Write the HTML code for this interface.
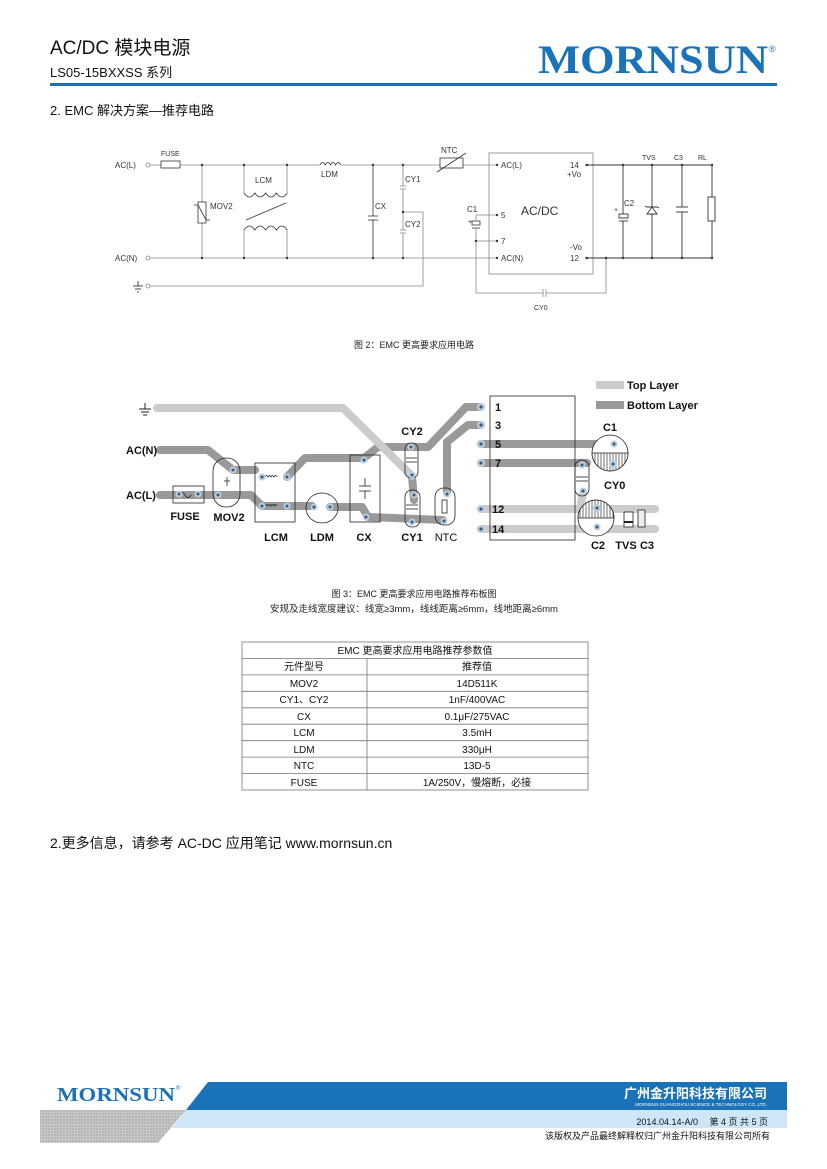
<!DOCTYPE html>
<html><head><meta charset="utf-8">
<style>
html,body{margin:0;padding:0;background:#fff;}
svg{display:block;}
text{font-family:"Liberation Sans","Noto Sans CJK SC",sans-serif;}
</style></head>
<body>
<svg width="827" height="1169" viewBox="0 0 827 1169" xmlns="http://www.w3.org/2000/svg">
<defs>
<pattern id="hatch" width="3" height="3" patternUnits="userSpaceOnUse"><rect width="3" height="3" fill="#c8c8c8"/><circle cx="1" cy="1" r="0.7" fill="#9a9a9a"/></pattern>
<pattern id="vl" width="3" height="3" patternUnits="userSpaceOnUse"><rect width="3" height="3" fill="#fff"/><line x1="1" y1="0" x2="1" y2="3" stroke="#333" stroke-width="0.7"/></pattern>
</defs>

<!-- Header -->
<text x="50" y="54" font-size="19" fill="#111">AC/DC 模块电源</text>
<text x="50" y="77" font-size="13" fill="#111">LS05-15BXXSS 系列</text>
<text x="538" y="73" font-size="40" font-weight="bold" fill="#1a72b9" style="font-family:'Liberation Serif',serif" textLength="230" lengthAdjust="spacingAndGlyphs">MORNSUN</text>
<text x="769" y="52" font-size="9" fill="#1a72b9">®</text>
<rect x="50" y="83" width="727" height="3" fill="#1a72b9"/>
<text x="50" y="115" font-size="13" fill="#111">2. EMC 解决方案—推荐电路</text>

<!-- Schematic -->
<g stroke="#888" stroke-width="0.8" fill="none">
<circle cx="148" cy="165" r="2"/><circle cx="148" cy="258" r="2"/><circle cx="148" cy="286" r="2"/>
<line x1="150" y1="165" x2="161" y2="165"/><rect x="161" y="161" width="19" height="7" stroke="#333"/>
<line x1="180" y1="165" x2="320" y2="165"/>
<path d="M320 165 q2.6 -5 5.2 0 q2.6 -5 5.2 0 q2.6 -5 5.2 0 q2.6 -5 5.2 0" stroke="#333"/>
<line x1="341" y1="165" x2="440" y2="165"/>
<line x1="463" y1="165" x2="497" y2="165"/>
<rect x="440" y="158" width="23" height="10" stroke="#333"/><line x1="437" y1="172" x2="466" y2="153" stroke="#333"/>
<line x1="150" y1="258" x2="497" y2="258"/>
<line x1="202" y1="165" x2="202" y2="258"/>
<rect x="198" y="202" width="8" height="21" stroke="#333" fill="#fff"/><path d="M194 205 l4 0 l8 15 l4 0" stroke="#333"/>
<line x1="244" y1="165" x2="244" y2="193"/><line x1="287" y1="165" x2="287" y2="193"/>
<path d="M244 193 q5.4 8 10.8 0 q5.4 8 10.8 0 q5.4 8 10.8 0 q5.4 8 10.8 0" stroke="#333"/>
<path d="M244 230 q5.4 -8 10.8 0 q5.4 -8 10.8 0 q5.4 -8 10.8 0 q5.4 -8 10.8 0" stroke="#333"/>
<line x1="244" y1="230" x2="244" y2="258"/><line x1="287" y1="230" x2="287" y2="258"/>
<line x1="246" y1="220" x2="286" y2="203" stroke="#333"/>
<line x1="373" y1="165" x2="373" y2="216" stroke="#333"/><line x1="373" y1="220" x2="373" y2="258" stroke="#333"/>
<line x1="368" y1="216" x2="378" y2="216" stroke="#333"/><line x1="368" y1="220" x2="378" y2="220" stroke="#333"/>
<line x1="403" y1="165" x2="403" y2="186"/><line x1="400" y1="186" x2="406" y2="186"/><line x1="400" y1="189" x2="406" y2="189"/>
<line x1="403" y1="189" x2="403" y2="230"/><line x1="400" y1="230" x2="406" y2="230"/><line x1="400" y1="233" x2="406" y2="233"/>
<line x1="403" y1="233" x2="403" y2="258"/>
<polyline points="403,212 423,212 423,286 150,286"/>
<rect x="489" y="153" width="104" height="121"/>
<line x1="476" y1="215" x2="497" y2="215"/><line x1="476" y1="215" x2="476" y2="220"/>
<rect x="472" y="221" width="8" height="4" stroke="#333"/><line x1="472" y1="228" x2="480" y2="228" stroke="#333"/>
<line x1="476" y1="228" x2="476" y2="293"/>
<line x1="476" y1="241" x2="497" y2="241"/>
<line x1="476" y1="293" x2="543" y2="293"/><line x1="543" y1="289" x2="543" y2="297"/><line x1="546" y1="289" x2="546" y2="297"/>
<polyline points="546,293 606,293 606,258"/>
</g>
<g stroke="#333" stroke-width="0.9" fill="none">
<line x1="585" y1="165" x2="712" y2="165"/><line x1="585" y1="258" x2="712" y2="258"/>
<line x1="623" y1="165" x2="623" y2="214"/><rect x="619" y="214" width="9" height="4"/><line x1="619" y1="221" x2="628" y2="221"/><line x1="623" y1="221" x2="623" y2="258"/>
<line x1="652" y1="165" x2="652" y2="258"/><path d="M647 214 l10 0 l-5 -7 z M645 206 l2 1 l10 0 l2 1" fill="#fff"/>
<line x1="682" y1="165" x2="682" y2="207"/><line x1="676" y1="207" x2="688" y2="207"/><line x1="676" y1="212" x2="688" y2="212"/><line x1="682" y1="212" x2="682" y2="258"/>
<line x1="712" y1="165" x2="712" y2="197"/><rect x="708" y="197" width="7" height="24"/><line x1="712" y1="221" x2="712" y2="258"/>
</g>
<g fill="#333">
<circle cx="202" cy="165" r="1.2"/><circle cx="244" cy="165" r="1.2"/><circle cx="287" cy="165" r="1.2"/><circle cx="373" cy="165" r="1.2"/><circle cx="403" cy="165" r="1.2"/>
<circle cx="202" cy="258" r="1.2"/><circle cx="244" cy="258" r="1.2"/><circle cx="287" cy="258" r="1.2"/><circle cx="373" cy="258" r="1.2"/><circle cx="403" cy="258" r="1.2"/>
<circle cx="403" cy="212" r="1.2"/><circle cx="476" cy="241" r="1.2"/>
<circle cx="497" cy="165" r="1.2"/><circle cx="497" cy="215" r="1.2"/><circle cx="497" cy="241" r="1.2"/><circle cx="497" cy="258" r="1.2"/>
<circle cx="587" cy="165" r="1.2"/><circle cx="587" cy="258" r="1.2"/><circle cx="606" cy="258" r="1.2"/>
<circle cx="623" cy="165" r="1.2"/><circle cx="652" cy="165" r="1.2"/><circle cx="682" cy="165" r="1.2"/><circle cx="712" cy="165" r="1.2"/>
<circle cx="623" cy="258" r="1.2"/><circle cx="652" cy="258" r="1.2"/><circle cx="682" cy="258" r="1.2"/><circle cx="712" cy="258" r="1.2"/>
</g>
<g stroke="#333" stroke-width="0.9"><line x1="138" y1="281" x2="138" y2="286"/><line x1="133" y1="286" x2="143" y2="286"/><line x1="135" y1="289" x2="141" y2="289"/><line x1="137" y1="292" x2="139" y2="292"/></g>
<g font-size="8" fill="#333">
<text x="115" y="168">AC(L)</text><text x="115" y="261">AC(N)</text>
<text x="161" y="156" font-size="7">FUSE</text><text x="210" y="209">MOV2</text><text x="255" y="183">LCM</text>
<text x="321" y="177">LDM</text><text x="375" y="209">CX</text><text x="405" y="182">CY1</text><text x="405" y="227">CY2</text>
<text x="441" y="153">NTC</text><text x="467" y="212">C1</text><text x="468" y="224" font-size="7">+</text>
<text x="501" y="168">AC(L)</text><text x="501" y="218">5</text><text x="501" y="244">7</text><text x="501" y="261">AC(N)</text>
<text x="521" y="215" font-size="12">AC/DC</text>
<text x="570" y="168">14</text><text x="567" y="177">+Vo</text><text x="570" y="250">-Vo</text><text x="570" y="261">12</text>
<text x="624" y="206">C2</text><text x="614" y="212" font-size="7">+</text>
<text x="642" y="160" font-size="7">TVS</text><text x="674" y="160" font-size="7">C3</text><text x="698" y="160" font-size="7">RL</text>
<text x="534" y="310" font-size="7">CY0</text>
</g>
<text x="414" y="348" font-size="9" fill="#222" text-anchor="middle">图 2：EMC 更高要求应用电路</text>

<!-- PCB -->
<g fill="none" stroke-linejoin="round" stroke-linecap="round" stroke-width="8">
<polyline stroke="#999" points="160,450 208,450 233,470 255,470"/>
<polyline stroke="#999" points="160,495 251,495 262,506 312,506"/>
<polyline stroke="#999" points="287,477 305,458 364,458 378,447 428,447 466,407 481,407"/>
<polyline stroke="#999" points="330,507 362,507 368,517 443,520"/>
<polyline stroke="#999" points="412,476 414,500"/>
<polyline stroke="#999" points="447,492 447,442 468,425 481,425"/>
<polyline stroke="#999" points="481,444 610,444"/>
<polyline stroke="#999" points="481,463 587,463"/>
<polyline stroke="#ccc" points="157,408 343,408 412,476"/>
<polyline stroke="#ccc" points="481,509 655,509"/>
<polyline stroke="#ccc" points="481,529 655,529"/>
<polyline stroke="#ccc" points="583,493 580,509"/>
</g>
<rect x="596" y="381" width="28" height="8" fill="#ccc"/><rect x="596" y="401" width="28" height="8" fill="#999"/>
<g font-size="11" font-weight="bold" fill="#111" style="font-family:'Liberation Mono',monospace">
<text x="627" y="389">Top Layer</text><text x="627" y="409">Bottom Layer</text>
</g>
<g stroke="#222" stroke-width="1"><line x1="145" y1="403" x2="145" y2="409"/><line x1="139" y1="409" x2="151" y2="409"/><line x1="141" y1="412" x2="149" y2="412"/><line x1="143" y1="415" x2="147" y2="415"/></g>
<g fill="none" stroke="#222" stroke-width="0.8">
<rect x="490" y="396" width="85" height="144"/>
<rect x="173" y="486" width="31" height="17"/>
<rect x="213" y="458" width="27" height="49" rx="13"/>
<rect x="255" y="463" width="40" height="59"/>
<ellipse cx="322" cy="508" rx="16" ry="15"/>
<rect x="350" y="455" width="30" height="67"/>
<rect x="405" y="443" width="13" height="35" rx="6"/>
<rect x="405" y="490" width="15" height="37" rx="7"/>
<rect x="435" y="488" width="20" height="37" rx="9"/>
<rect x="575" y="460" width="14" height="36" rx="7"/>
<path d="M179 495 q3 -5 6 0 q3 5 6 0" />
<path d="M262 477 q1.5 -3 3 0 q1.5 -3 3 0 q1.5 -3 3 0 q1.5 -3 3 0 q1.5 -3 3 0"/>
<path d="M262 506 q1.5 -3 3 0 q1.5 -3 3 0 q1.5 -3 3 0 q1.5 -3 3 0 q1.5 -3 3 0"/>
<line x1="359" y1="486" x2="371" y2="486"/><line x1="359" y1="491" x2="371" y2="491"/><line x1="365" y1="478" x2="365" y2="486"/><line x1="365" y1="491" x2="365" y2="499"/>
<line x1="406" y1="458" x2="417" y2="458"/><line x1="406" y1="462" x2="417" y2="462"/>
<line x1="406" y1="505" x2="418" y2="505"/><line x1="406" y1="509" x2="418" y2="509"/>
<line x1="576" y1="477" x2="588" y2="477"/><line x1="576" y1="481" x2="588" y2="481"/>
<rect x="442" y="500" width="5" height="13"/>
<line x1="224" y1="481" x2="230" y2="481"/><line x1="227" y1="477" x2="227" y2="486"/>
</g>
<ellipse cx="610" cy="453" rx="18" ry="18" fill="#fff" stroke="#222" stroke-width="0.8"/>
<path d="M592 453 A18 18 0 0 0 628 453 Z" fill="url(#vl)" stroke="#222" stroke-width="0.8"/>
<ellipse cx="596" cy="518" rx="18" ry="18" fill="#fff" stroke="#222" stroke-width="0.8"/>
<path d="M578 518 A18 18 0 0 1 614 518 Z" fill="url(#vl)" stroke="#222" stroke-width="0.8"/>
<rect x="624" y="512" width="9" height="15" fill="#fff" stroke="#222" stroke-width="0.8"/><rect x="624" y="521" width="9" height="2" fill="#222"/>
<rect x="638" y="510" width="7" height="17" fill="#eee" stroke="#222" stroke-width="0.8"/>
<g fill="#bcd" stroke="none">
<circle cx="481" cy="407" r="4"/><circle cx="481" cy="425" r="4"/><circle cx="481" cy="444" r="4"/><circle cx="481" cy="463" r="4"/><circle cx="481" cy="509" r="4"/><circle cx="481" cy="529" r="4"/>
<circle cx="179" cy="494" r="3.5"/><circle cx="198" cy="494" r="3.5"/><circle cx="218" cy="495" r="3.5"/><circle cx="233" cy="470" r="3.5"/>
<circle cx="262" cy="477" r="3.5"/><circle cx="287" cy="477" r="3.5"/><circle cx="262" cy="506" r="3.5"/><circle cx="287" cy="506" r="3.5"/>
<circle cx="314" cy="507" r="3.5"/><circle cx="330" cy="507" r="3.5"/><circle cx="364" cy="460" r="3.5"/><circle cx="366" cy="517" r="3.5"/>
<circle cx="411" cy="447" r="3.5"/><circle cx="412" cy="475" r="3.5"/><circle cx="414" cy="495" r="3.5"/><circle cx="412" cy="522" r="3.5"/>
<circle cx="447" cy="494" r="3.5"/><circle cx="444" cy="521" r="3.5"/><circle cx="582" cy="465" r="3.5"/><circle cx="583" cy="491" r="3.5"/>
<circle cx="614" cy="444" r="3.5"/><circle cx="613" cy="464" r="4"/><circle cx="597" cy="508" r="4"/><circle cx="597" cy="527" r="3.5"/>
</g>
<g fill="#2d5f8a">
<circle cx="481" cy="407" r="1.6"/><circle cx="481" cy="425" r="1.6"/><circle cx="481" cy="444" r="1.6"/><circle cx="481" cy="463" r="1.6"/><circle cx="481" cy="509" r="1.6"/><circle cx="481" cy="529" r="1.6"/>
<circle cx="179" cy="494" r="1.5"/><circle cx="198" cy="494" r="1.5"/><circle cx="218" cy="495" r="1.5"/><circle cx="233" cy="470" r="1.5"/>
<circle cx="262" cy="477" r="1.5"/><circle cx="287" cy="477" r="1.5"/><circle cx="262" cy="506" r="1.5"/><circle cx="287" cy="506" r="1.5"/>
<circle cx="314" cy="507" r="1.5"/><circle cx="330" cy="507" r="1.5"/><circle cx="364" cy="460" r="1.5"/><circle cx="366" cy="517" r="1.5"/>
<circle cx="411" cy="447" r="1.5"/><circle cx="412" cy="475" r="1.5"/><circle cx="414" cy="495" r="1.5"/><circle cx="412" cy="522" r="1.5"/>
<circle cx="447" cy="494" r="1.5"/><circle cx="444" cy="521" r="1.5"/><circle cx="582" cy="465" r="1.5"/><circle cx="583" cy="491" r="1.5"/>
<circle cx="614" cy="444" r="1.5"/><circle cx="613" cy="464" r="1.5"/><circle cx="597" cy="508" r="1.5"/><circle cx="597" cy="527" r="1.5"/>
</g>
<g font-size="11" font-weight="bold" fill="#111" style="font-family:'Liberation Mono',monospace">
<text x="495" y="411">1</text><text x="495" y="429">3</text><text x="495" y="448">5</text><text x="495" y="467">7</text><text x="492" y="513">12</text><text x="492" y="533">14</text>
</g>
<g font-size="11" font-weight="bold" fill="#111" text-anchor="middle">
<text x="126" y="454" text-anchor="start">AC(N)</text>
<text x="126" y="499" text-anchor="start">AC(L)</text>
<text x="185" y="520">FUSE</text><text x="229" y="521">MOV2</text><text x="276" y="541">LCM</text><text x="322" y="541">LDM</text><text x="364" y="541">CX</text><text x="412" y="541">CY1</text>
<text x="446" y="541" font-weight="normal">NTC</text><text x="412" y="435">CY2</text><text x="610" y="431">C1</text><text x="604" y="489" text-anchor="start">CY0</text>
<text x="598" y="549">C2</text><text x="626" y="549">TVS</text><text x="647" y="549">C3</text>
</g>
<text x="414" y="597" font-size="9" fill="#222" text-anchor="middle">图 3：EMC 更高要求应用电路推荐布板图</text>
<text x="414" y="612" font-size="9.5" fill="#222" text-anchor="middle">安规及走线宽度建议：线宽≥3mm，线线距离≥6mm，线地距离≥6mm</text>

<!-- Table -->
<g stroke="#777" stroke-width="0.8" fill="none">
<rect x="242" y="642" width="346" height="148"/>
<line x1="242" y1="658.4" x2="588" y2="658.4"/><line x1="242" y1="674.9" x2="588" y2="674.9"/><line x1="242" y1="691.3" x2="588" y2="691.3"/>
<line x1="242" y1="707.8" x2="588" y2="707.8"/><line x1="242" y1="724.2" x2="588" y2="724.2"/><line x1="242" y1="740.7" x2="588" y2="740.7"/>
<line x1="242" y1="757.1" x2="588" y2="757.1"/><line x1="242" y1="773.6" x2="588" y2="773.6"/>
<line x1="367" y1="658.4" x2="367" y2="790"/>
</g>
<g font-size="10" fill="#111" text-anchor="middle">
<text x="415" y="654">EMC 更高要求应用电路推荐参数值</text>
<text x="304" y="670">元件型号</text><text x="477" y="670">推荐值</text>
<text x="304" y="687">MOV2</text><text x="477" y="687">14D511K</text>
<text x="304" y="703">CY1、CY2</text><text x="477" y="703">1nF/400VAC</text>
<text x="304" y="720">CX</text><text x="477" y="720">0.1μF/275VAC</text>
<text x="304" y="736">LCM</text><text x="477" y="736">3.5mH</text>
<text x="304" y="753">LDM</text><text x="477" y="753">330μH</text>
<text x="304" y="769">NTC</text><text x="477" y="769">13D-5</text>
<text x="304" y="786">FUSE</text><text x="477" y="786">1A/250V，慢熔断，必接</text>
</g>
<text x="50" y="848" font-size="14" fill="#111">2.更多信息，请参考 AC-DC 应用笔记 www.mornsun.cn</text>

<!-- Footer -->
<polygon points="208,1082 787,1082 787,1110 186,1110" fill="#1a72b9"/>
<polygon points="186,1110 787,1110 787,1128 172,1128" fill="#cfe6f6"/>
<polygon points="40,1110 186,1110 158,1143 40,1143" fill="url(#hatch)"/>
<text x="57" y="1101" font-size="20" font-weight="bold" fill="#1a72b9" style="font-family:'Liberation Serif',serif" textLength="118" lengthAdjust="spacingAndGlyphs">MORNSUN</text>
<text x="176" y="1090" font-size="6" fill="#1a72b9">®</text>
<text x="767" y="1098" font-size="13" font-weight="bold" fill="#fff" text-anchor="end">广州金升阳科技有限公司</text>
<text x="767" y="1106" font-size="4.5" fill="#fff" text-anchor="end">MORNSUN GUANGZHOU SCIENCE &amp; TECHNOLOGY CO.,LTD.</text>
<text x="768" y="1125" font-size="9" fill="#111" text-anchor="end">2014.04.14-A/0　 第 4 页 共 5 页</text>
<text x="770" y="1139" font-size="9" fill="#111" text-anchor="end">该版权及产品最终解释权归广州金升阳科技有限公司所有</text>
</svg>
</body></html>
